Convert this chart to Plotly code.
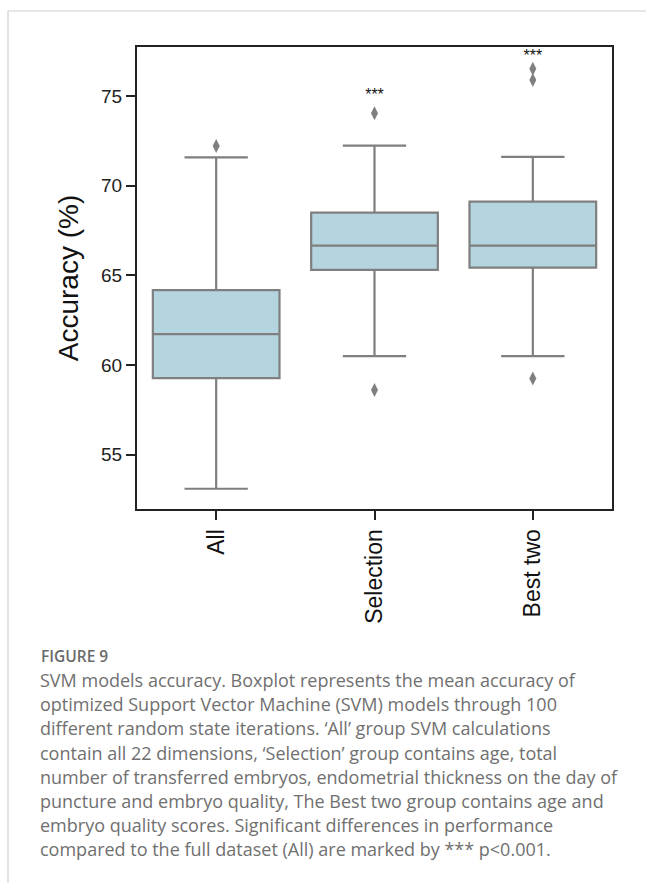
import plotly.graph_objects as go

# ---- data ----
groups = ["All", "Selection", "Best two"]
q1 = [59.27, 65.30, 65.43]
median = [61.72, 66.66, 66.66]
q3 = [64.17, 68.50, 69.11]
lower_whisker = [53.10, 60.49, 60.49]
upper_whisker = [71.58, 72.23, 71.60]
outlier_groups = ["All", "Selection", "Selection", "Best two", "Best two", "Best two"]
outlier_values = [72.21, 74.03, 58.61, 76.52, 75.89, 59.25]
sig_groups = ["Selection", "Best two"]
sig_y = [75.0, 77.2]
sig_text = ["***", "***"]
y_ticks = [55, 60, 65, 70, 75]

caption_title = "FIGURE 9"
caption_lines = [
    "SVM models accuracy. Boxplot represents the mean accuracy of",
    "optimized Support Vector Machine (SVM) models through 100",
    "different random state iterations. \u2018All\u2019 group SVM calculations",
    "contain all 22 dimensions, \u2018Selection\u2019 group contains age, total",
    "number of transferred embryos, endometrial thickness on the day of",
    "puncture and embryo quality, The Best two group contains age and",
    "embryo quality scores. Significant differences in performance",
    "compared to the full dataset (All) are marked by *** p<0.001.",
]

W, H = 646, 883
L, R, T, B = 137, 612, 47, 509  # plot area in pixels


def px(x):
    return (x - L) / (R - L)


def py(y):
    return (B - y) / (B - T)


LINE = "#7f7f7f"
FILL = "#b4d4df"

fig = go.Figure()
fig.add_trace(go.Box(
    x=groups, q1=q1, median=median, q3=q3,
    lowerfence=lower_whisker, upperfence=upper_whisker,
    fillcolor=FILL, line=dict(color=LINE, width=2.2),
    width=0.8, whiskerwidth=0.5, boxpoints=False,
    showlegend=False, hoverinfo="skip",
))
fig.add_trace(go.Scatter(
    x=outlier_groups, y=outlier_values, mode="markers",
    marker=dict(symbol="diamond-tall", size=10, color=LINE, line=dict(width=0)),
    showlegend=False, hoverinfo="skip",
))
fig.add_trace(go.Scatter(
    x=sig_groups, y=sig_y, mode="text", text=sig_text,
    textfont=dict(family="Liberation Sans, Arial", size=16, color="#111"),
    textposition="middle center", showlegend=False, hoverinfo="skip",
))

axis_common = dict(
    showline=True, linecolor="#222", linewidth=2, mirror=True,
    ticks="outside", ticklen=9, tickwidth=2, tickcolor="#222",
    showgrid=False, zeroline=False,
)
fig.update_xaxes(
    **axis_common, type="category", categoryorder="array", categoryarray=groups,
    range=[-0.5, 2.5], tickangle=-90,
    tickfont=dict(family="Liberation Sans, Arial", size=23, color="#111"),
)
fig.update_yaxes(
    **axis_common, range=[51.97, 77.73], tickvals=y_ticks,
    tickfont=dict(family="Liberation Sans, Arial", size=19, color="#222"),
    title=dict(text="Accuracy (%)", standoff=14,
               font=dict(family="Liberation Sans, Arial", size=28, color="#111")),
)

shapes = [
    dict(type="line", xref="paper", yref="paper", x0=px(8), x1=px(646), y0=py(11), y1=py(11),
         line=dict(color="#cfcfcf", width=1.2)),
    dict(type="line", xref="paper", yref="paper", x0=px(8), x1=px(8), y0=py(11), y1=py(883),
         line=dict(color="#cfcfcf", width=1.2)),
]

annotations = [dict(
    xref="paper", yref="paper", x=px(39), y=py(656), xanchor="left", yanchor="middle",
    text=caption_title, showarrow=False,
    font=dict(family="Open Sans", size=15.5, color="#6a6a6a", weight=600),
)]
for i, line in enumerate(caption_lines):
    annotations.append(dict(
        xref="paper", yref="paper", x=px(38), y=py(680 + i * 24.2), xanchor="left", yanchor="middle",
        text=line, showarrow=False,
        font=dict(family="Open Sans", size=18, color="#707070"),
    ))

fig.update_layout(
    width=W, height=H,
    margin=dict(l=L, r=W - R, t=T, b=H - B),
    paper_bgcolor="white", plot_bgcolor="white",
    shapes=shapes, annotations=annotations,
)

fig.write_html("out.html")
